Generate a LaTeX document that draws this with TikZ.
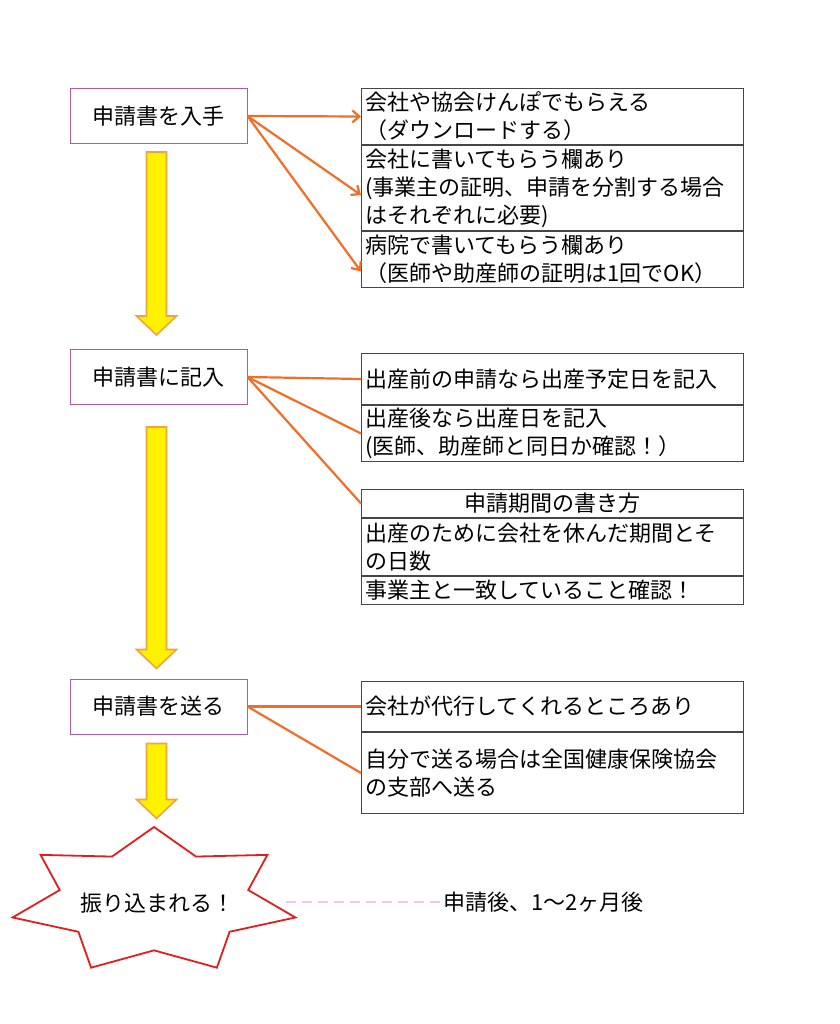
\documentclass[tikz,border=0pt]{standalone}
\usepackage{fontspec}
\setmainfont{Noto Sans CJK JP}
\usepackage{xcolor}
\usetikzlibrary{shapes, arrows.meta, positioning, calc, shapes.geometric}

\definecolor{boxpurple}{RGB}{180,90,160}
\definecolor{cellgray}{RGB}{70,70,70}
\definecolor{linkorange}{RGB}{240,110,40}
\definecolor{arroworange}{RGB}{240,165,60}
\definecolor{starred}{RGB}{225,30,30}
\definecolor{dashpink}{RGB}{240,200,240}
\newcommand{\jpsize}{\fontsize{22pt}{28pt}\selectfont}
% big yellow arrow from #1 straight down to the height of #2
\newcommand{\flowarrow}[2]{\path (#1 |- #2) coordinate (tip);
  \draw[bigarrow] ($(#1)+(-10,0)$) -- ($(#1)+(10,0)$) -- ($(tip)+(10,-19)$) -- ($(tip)+(20,-19)$) -- (tip) -- ($(tip)+(-20,-19)$) -- ($(tip)+(-10,-19)$) -- cycle;}
\setlength{\parindent}{0pt}

\begin{document}
\begin{tikzpicture}[x=1pt, y=-1pt,
  stepbox/.style={rectangle, draw=boxpurple, line width=1pt, minimum width=177pt, minimum height=55pt, font=\jpsize},
  cell/.style={rectangle, draw=cellgray, line width=1pt, anchor=north west, text width=374pt, inner xsep=4pt, inner ysep=0pt, align=left, font=\jpsize},
  link/.style={draw=linkorange, line width=2.2pt},
  bigarrow/.style={fill=yellow, draw=arroworange, line width=1.6pt, line join=miter}]
\useasboundingbox (0,0) rectangle (839,1024);

% left column
\node[stepbox] (get) at (158.5,116) {申請書を入手};
\node[stepbox] (fill) at (158.5,377) {申請書に記入};
\node[stepbox] (send) at (158.5,706.5) {申請書を送る};
\node[star, star points=7, star point ratio=1.5, draw=starred, fill=white, line width=1.8pt, minimum size=148pt, inner sep=0pt, xscale=1.96, transform shape] (bang) at (154,901) {};
\node[font=\jpsize] (bangtext) at ($(bang.center)+(3,2)$) {振り込まれる！};

% right column
\node[cell, minimum height=56pt] (get1) at (361,88) {会社や協会けんぽでもらえる\\（ダウンロードする）};
\node[cell, minimum height=85pt] (get2) at (get1.south west) {会社に書いてもらう欄あり\\(事業主の証明、申請を分割する場合\\はそれぞれに必要)};
\node[cell, minimum height=56pt] (get3) at (get2.south west) {病院で書いてもらう欄あり\\（医師や助産師の証明は1回でOK）};

\node[cell, minimum height=51pt] (fill1) at (361,353) {出産前の申請なら出産予定日を記入};
\node[cell, minimum height=56pt] (fill2) at (fill1.south west) {出産後なら出産日を記入\\(医師、助産師と同日か確認！）};

\node[cell, minimum height=28pt, align=center] (term1) at (361,489) {申請期間の書き方};
\node[cell, minimum height=57pt] (term2) at (term1.south west) {出産のために会社を休んだ期間とそ\\の日数};
\node[cell, minimum height=28pt] (term3) at (term2.south west) {事業主と一致していること確認！};

\node[cell, minimum height=50pt] (send1) at (361,681) {会社が代行してくれるところあり};
\node[cell, minimum height=81pt] (send2) at (send1.south west) {自分で送る場合は全国健康保険協会\\の支部へ送る};

\node[anchor=west, font=\jpsize] (wait) at (440,902) {申請後、1〜2ヶ月後};

% yellow arrows
\coordinate (down1) at ($(get.south)+(-2,8)$);
\coordinate (down2) at ($(fill.south)+(-2,22)$);
\coordinate (down3) at ($(send.south)+(-2,9)$);
\coordinate (stop1) at ($(fill.north)+(0,-14)$);
\coordinate (stop2) at ($(send.north)+(0,-10)$);
\coordinate (stop3) at ($(bang.north)+(0,-7)$);
\flowarrow{down1}{stop1}
\flowarrow{down2}{stop2}
\flowarrow{down3}{stop3}

% orange links
\draw[link, -{Straight Barb[length=7pt, width=12pt]}] (get.east) -- (get1.west);
\draw[link, -{Straight Barb[length=7pt, width=12pt]}] (get.east) -- ($(get2.west)+(0,7)$);
\draw[link, -{Straight Barb[length=7pt, width=12pt]}] (get.east) -- ($(get3.west)+(0,12)$);
\draw[link] (fill.east) -- (fill1.west);
\draw[link] (fill.east) -- (fill2.west);
\draw[link] (fill.east) -- (term1.west);
\draw[link] (send.east) -- (send1.west);
\draw[link] (send.east) -- (send2.west);

\draw[draw=dashpink, line width=2pt, dash pattern=on 10pt off 6pt] ($(bang.east)+(17,1)$) -- (wait.west);
\end{tikzpicture}
\end{document}
